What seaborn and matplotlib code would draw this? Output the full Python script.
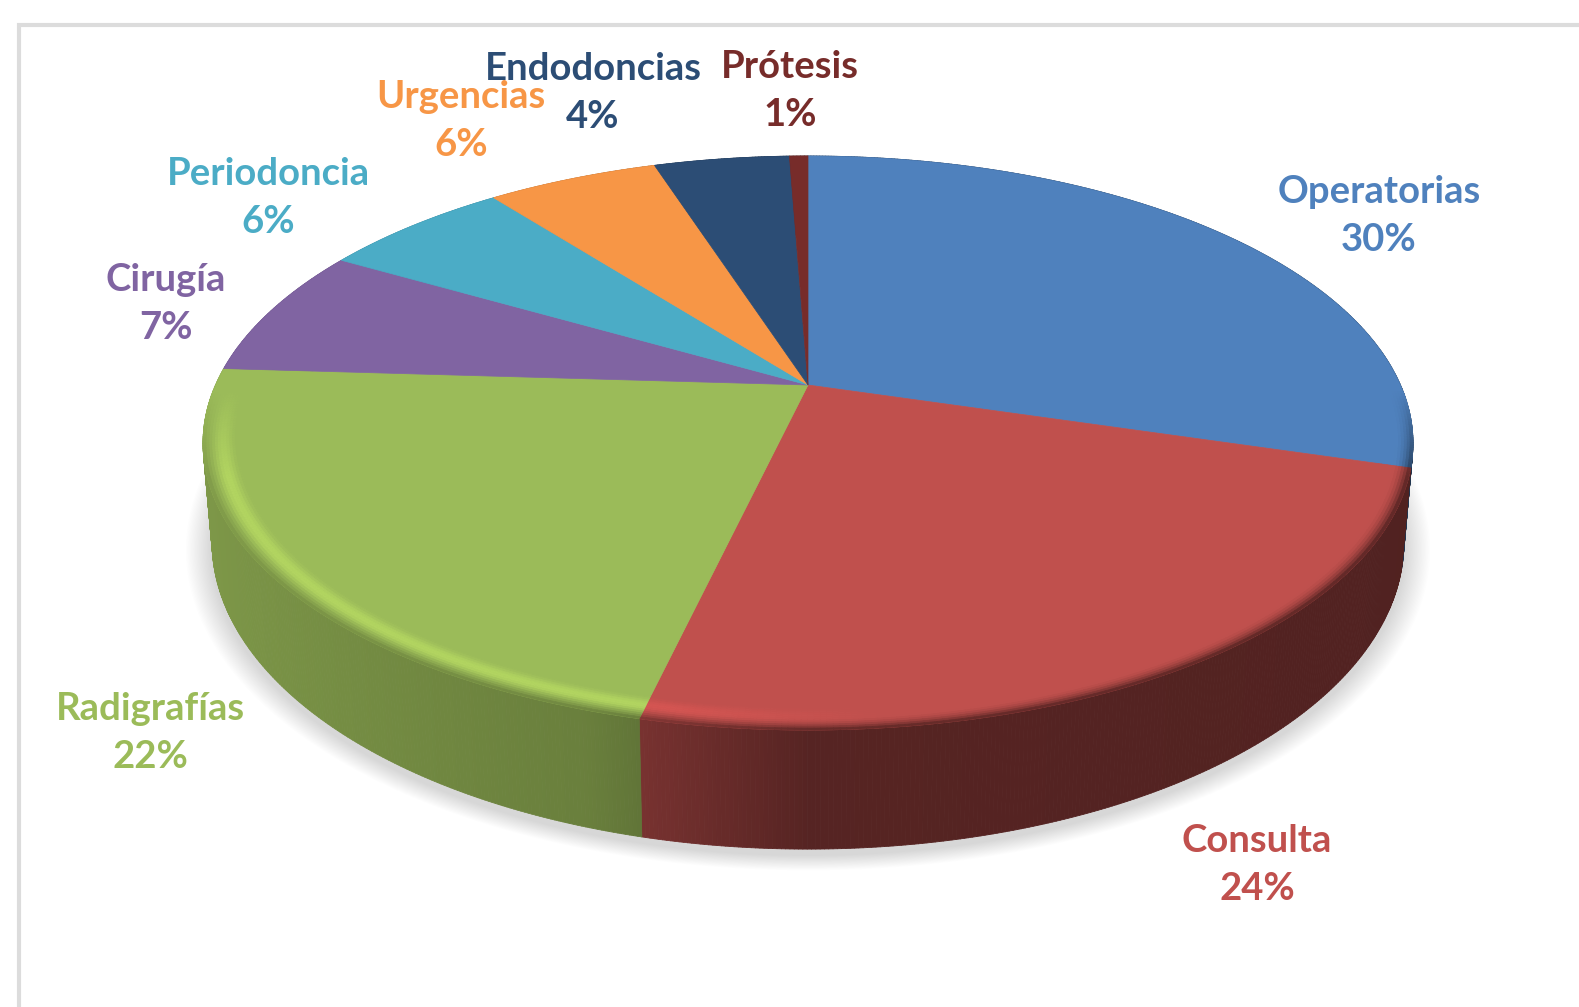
import numpy as np
import matplotlib
matplotlib.use('Agg')
import matplotlib.pyplot as plt
import seaborn as sns
from matplotlib.collections import PolyCollection
from matplotlib.patches import Polygon

# Datos
categorias = ['Operatorias', 'Consulta', 'Radigrafías', 'Cirugía', 'Periodoncia', 'Urgencias', 'Endodoncias', 'Prótesis']
valores = [29.6, 24.1, 22.3, 7.35, 6.15, 5.55, 4.4, 0.6]
colores = ['#4F81BD', '#C0504D', '#9BBB59', '#8064A2', '#4BACC6', '#F79646', '#2C4D75', '#772C2A']

# Centro de cada etiqueta, en pixeles de la imagen
pos_etiquetas = [(1379, 216), (1257, 865), (150, 733), (166, 304), (268, 198), (461, 121), (593, 93), (790, 91)]

sns.set_theme(style='white')
plt.rcParams['font.family'] = ['Lato', 'DejaVu Sans']
paleta = sns.color_palette(colores)

# Geometria de la tarta en perspectiva
CX, CY = 808, 385
K = 0.2021
A, B = 592.5, 275.3
PROF = 95
RIM = 0.945


def proyectar(r, theta):
    u, v = r * np.cos(theta), r * np.sin(theta)
    w = 1 + K * v
    return CX + A * u / w, CY - B * v / w


def proyectar_base(theta):
    x, y = proyectar(1.0, theta)
    w = 1 + K * np.sin(theta)
    return CX + (x - CX) * 0.985, y + PROF / w


def sombra_lateral(u):
    return np.interp(u, [-1, -0.3, 0, 1], [0.82, 0.68, 0.45, 0.42])


fig = plt.figure(figsize=(15.79, 10.07), dpi=100)

# La tarta da los angulos de cada porcion a partir de los valores
ax_pie = fig.add_axes([0, 0, 0.1, 0.1])
wedges, _ = ax_pie.pie(valores, startangle=90, counterclock=False, colors=paleta)
ax_pie.set_visible(False)

ax = fig.add_axes([0, 0, 1, 1])
ax.set_xlim(0, 1579)
ax.set_ylim(1007, 0)
ax.axis('off')

# Marco gris
ax.plot([1579, 19, 19], [25, 25, 1007], color='#DCDCDC', lw=3, solid_joinstyle='miter')

# Sombra difusa bajo la tarta
th = np.linspace(0, 2 * np.pi, 360)
bx, by = proyectar_base(th)
for i in range(20):
    esc = 1 + (20 - i) * 0.0022
    ax.add_patch(Polygon(np.c_[CX + (bx - CX) * esc, 500 + (by - 500) * esc + 6], closed=True,
                         fc='black', ec='none', alpha=0.009, zorder=1))

# Pared lateral
for w_, color in zip(wedges, paleta):
    t = np.radians(np.linspace(w_.theta1, w_.theta2, max(int(w_.theta2 - w_.theta1) * 3, 4)))
    x0, y0 = proyectar(1.0, t)
    x1, y1 = proyectar_base(t)
    quads = [[(x0[i], y0[i]), (x0[i + 1], y0[i + 1]), (x1[i + 1], y1[i + 1]), (x1[i], y1[i])] for i in range(len(t) - 1)]
    um = np.cos((t[:-1] + t[1:]) / 2)
    caras = [tuple(np.array(color) * sombra_lateral(u)) for u in um]
    ax.add_collection(PolyCollection(quads, facecolors=caras, edgecolors='face', linewidths=0.6, zorder=2))

# Cara superior
for w_, color in zip(wedges, paleta):
    t = np.radians(np.linspace(w_.theta1, w_.theta2, max(int(w_.theta2 - w_.theta1) * 3, 4)))
    x, y = proyectar(1.0, t)
    ax.add_patch(Polygon(np.c_[np.r_[CX, x], np.r_[CY, y]], closed=True, fc=color, ec=color, lw=0.5, zorder=3))

# Borde biselado en la parte delantera
anillos = np.linspace(RIM, 1.0, 13)
for w_, color in zip(wedges, paleta):
    base = np.array(color)
    t = np.radians(np.linspace(w_.theta1, w_.theta2, max(int(w_.theta2 - w_.theta1) * 2, 4)))
    quads, caras = [], []
    for j in range(len(anillos) - 1):
        s = (j + 0.5) / (len(anillos) - 1)
        xa, ya = proyectar(anillos[j], t)
        xb, yb = proyectar(anillos[j + 1], t)
        for i in range(len(t) - 1):
            tm = (t[i] + t[i + 1]) / 2
            u, v = np.cos(tm), np.sin(tm)
            peso = np.clip((-0.02 - v) / 0.3, 0, 1)
            if peso == 0:
                continue
            mezcla = np.clip((s - 0.5) / 0.5, 0, 1) ** 2 * peso
            c = base * (1 - mezcla) + base * sombra_lateral(u) * mezcla
            brillo = np.sin(np.pi * np.clip(s / 0.85, 0, 1)) ** 2 * peso * np.clip((0.1 - u) / 0.3, 0, 1)
            c = np.clip(c + brillo * (np.array([0.09, 0.1, 0.03]) if base[1] > 0.5 else np.array([0.08, 0.02, 0.02])), 0, 1)
            quads.append([(xa[i], ya[i]), (xa[i + 1], ya[i + 1]), (xb[i + 1], yb[i + 1]), (xb[i], yb[i])])
            caras.append(tuple(c))
    if quads:
        ax.add_collection(PolyCollection(quads, facecolors=caras, edgecolors='face', linewidths=0.5, zorder=4))

# Etiquetas
for nombre, val, (x, y), color in zip(categorias, valores, pos_etiquetas, paleta):
    ax.text(x, y, f'{nombre}\n{val:.0f}%', ha='center', va='center', color=color, fontsize=27.5,
            fontweight='bold', linespacing=1.5, zorder=5)

fig.savefig('out.png', dpi=100, facecolor='white')
